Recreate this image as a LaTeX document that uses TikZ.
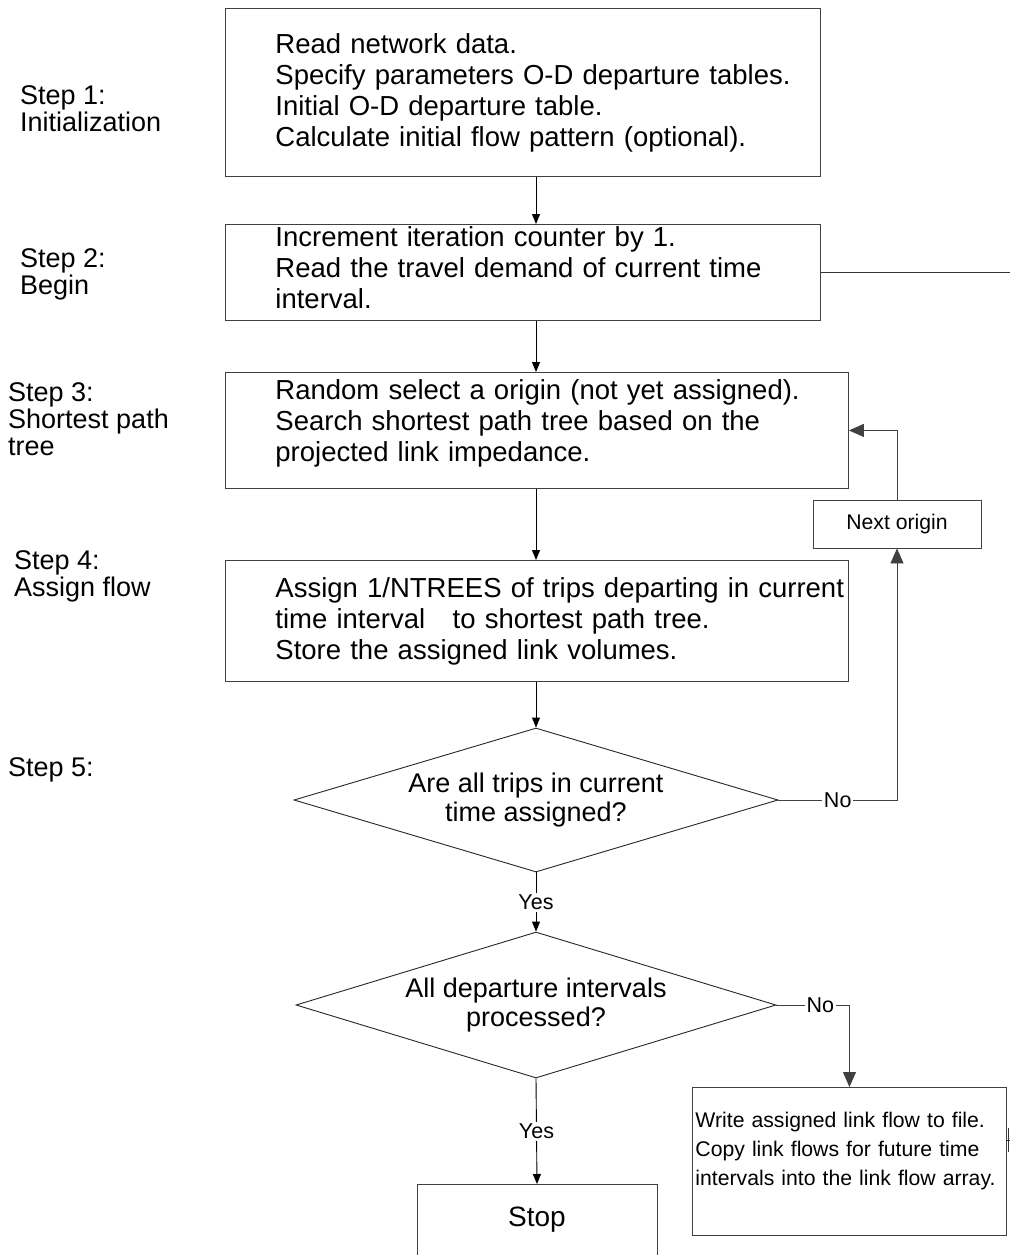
\documentclass[tikz,border=0pt]{standalone}
\usepackage{fontspec}
\setmainfont{Liberation Sans}
\usetikzlibrary{shapes.geometric,arrows.meta}

\tikzset{
  procbox/.style={draw=black!75, line width=0.9pt, anchor=north west, align=left,
    inner xsep=0pt, inner ysep=0pt, font=\fontsize{27.5}{31}\selectfont,
    execute at begin node={\leftskip=50pt\relax\hyphenpenalty=10000\relax}},
  smallbox/.style={draw=black!75, line width=0.9pt, align=left,
    inner xsep=3pt, inner ysep=0pt, font=\fontsize{21.2}{29}\selectfont,
    execute at begin node={\hyphenpenalty=10000\relax}},
  decision/.style={draw=black!85, line width=0.9pt, diamond, aspect=3.3,
    inner sep=0pt, align=center, font=\fontsize{27}{29}\selectfont},
  steplabel/.style={anchor=west, align=left, inner sep=0pt, font=\fontsize{27}{27}\selectfont},
  flow/.style={draw=black, line width=0.9pt, -{Triangle[length=10pt,width=8pt]}},
  bigflow/.style={draw=black!75, line width=0.9pt, -{Triangle[length=15pt,width=13pt]}},
  wire/.style={draw=black!80, line width=0.9pt},
  answer/.style={fill=white, inner sep=2pt, font=\fontsize{21.5}{23}\selectfont},
}

\begin{document}
\begin{tikzpicture}[x=1pt,y=-1pt]
    \useasboundingbox (0,0) rectangle (1010,1255);
    \clip (0,0) rectangle (1010,1255);

    % step labels
    \node[steplabel] (s1) at (20,109) {Step 1:\\Initialization};
    \node[steplabel] (s2) at (20,274) {Step 2:\\Begin};
    \node[steplabel] (s3) at (8,419) {Step 3:\\Shortest path\\tree};
    \node[steplabel] (s4) at (14,576) {Step 4:\\Assign flow};
    \node[steplabel] (s5) at (8,770) {Step 5:};

    % main column
    \node[procbox, text width=595pt, minimum height=168pt] (init) at (225,8)
        {Read network data.\\Specify parameters O-D departure tables.\\Initial O-D departure table.\\Calculate initial flow pattern (optional).};
    \node[procbox, text width=595pt, minimum height=96pt] (begin) at (225,224)
        {Increment iteration counter by 1.\\Read the travel demand of current time\\interval.\par\vspace{-22pt}\mbox{}};
    \node[procbox, text width=623pt, minimum height=116pt] (sptree) at (225,372)
        {Random select a origin (not yet assigned).\\Search shortest path tree based on the\\projected link impedance.\par\vspace{-11pt}\mbox{}};
    \node[procbox, text width=623pt, minimum height=121pt] (assign) at (225,560)
        {Assign 1/NTREES of trips departing in current\\time interval\ \ \ to shortest path tree.\\Store the assigned link volumes.};
    \node[decision, minimum width=484pt, minimum height=144pt] (alltrips) at (536,800)
        {Are all trips in current\\time assigned?};
    \node[decision, minimum width=480pt, minimum height=146pt] (allint) at (536,1005)
        {All departure intervals\\processed?};
    \node[draw=black!75, line width=0.9pt, anchor=north, minimum width=240pt, minimum height=80pt,
        text depth=16pt, font=\fontsize{28}{31}\selectfont] (stop) at (537,1184) {Stop};

    % side boxes
    \node[smallbox, minimum width=168pt, minimum height=48pt] (next) at (897,524) {Next origin};
    \node[smallbox, anchor=north west, text width=308pt, minimum height=148pt] (write) at (692,1087)
        {Write assigned link flow to file.\\Copy link flows for future time\\intervals into the link flow array.\par\vspace{-4pt}\mbox{}};

    \coordinate (edge2) at (1010,272);
    \coordinate (edge6) at (1010,1140);
    \coordinate (tick6a) at (1008.5,1128);
    \coordinate (tick6b) at (1008.5,1152);

    % connectors
    \draw[flow] (init.south -| alltrips.north) -- (begin.north -| alltrips.north);
    \draw[flow] (begin.south -| alltrips.north) -- (sptree.north -| alltrips.north);
    \draw[flow] (sptree.south -| alltrips.north) -- (assign.north -| alltrips.north);
    \draw[flow] (assign.south -| alltrips.north) -- (alltrips.north);
    \draw[flow] (alltrips.south) -- node[answer]{Yes} (allint.north);
    \draw[flow] (allint.south) -- node[answer]{Yes} (stop.north);

    \draw[bigflow] (alltrips.east) -- node[answer]{No} (alltrips.east -| next.south) -- (next.south);
    \draw[bigflow] (next.north) |- (sptree.east);
    \draw[bigflow] (allint.east) -| node[answer, pos=0.3]{No} (write.north);

    \draw[wire] (begin.east) -- (begin.east -| edge2);
    \draw[wire] (write.east |- edge6) -- (edge6);
    \draw[wire] (tick6a) -- (tick6b);
\end{tikzpicture}
\end{document}
